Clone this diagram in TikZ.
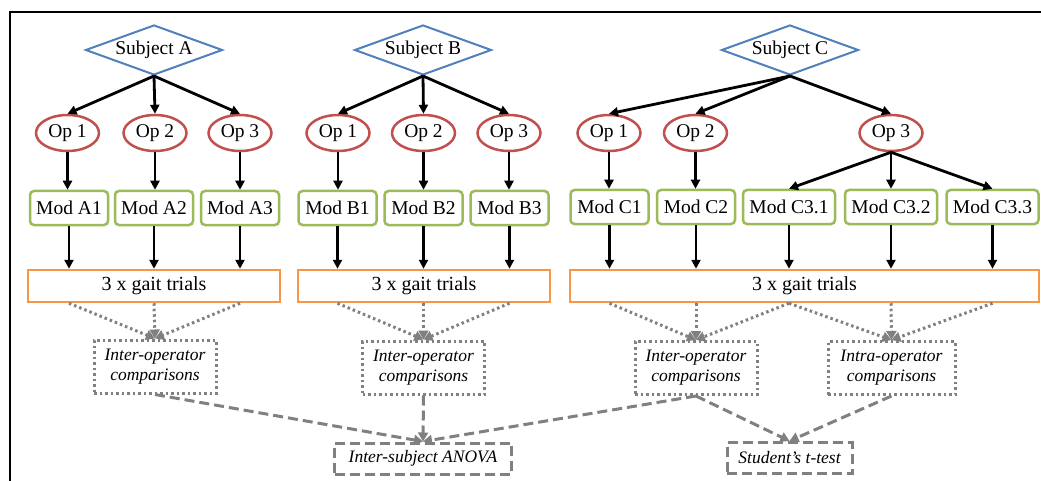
\documentclass[tikz,border=0pt]{standalone}
\usepackage{fontspec}
\newfontfamily\diagfont{Liberation Serif}
\usetikzlibrary{shapes.geometric,arrows.meta}
\definecolor{subjblue}{HTML}{4F81BD}
\definecolor{opred}{HTML}{C0504D}
\definecolor{modgreen}{HTML}{9BBB59}
\definecolor{gaitorange}{HTML}{F79646}
\definecolor{cmpgray}{HTML}{808080}
\tikzset{
  basefont/.style={font=\diagfont\fontsize{19.5}{22}\selectfont},
  subj/.style={diamond, draw=subjblue, line width=2pt, aspect=2.74, inner sep=0pt,
    minimum width=137pt, minimum height=50pt, basefont},
  opnode/.style={ellipse, draw=opred, line width=2.5pt, inner sep=0pt,
    minimum width=63pt, minimum height=36pt, basefont},
  modnode/.style={rectangle, rounded corners=4pt, draw=modgreen, line width=2.5pt,
    inner sep=0pt, minimum width=78pt, minimum height=34pt, basefont},
  gaitnode/.style={rectangle, draw=gaitorange, line width=2.5pt, inner sep=0pt,
    minimum height=32pt, font=\diagfont\fontsize{20}{22}\selectfont},
  cmpnode/.style={rectangle, draw=cmpgray, line width=3pt, dash pattern=on 2.5pt off 3pt,
    inner sep=0pt, minimum width=122pt, minimum height=53pt, align=center,
    font=\diagfont\fontsize{17.5}{20}\selectfont\itshape},
  finalnode/.style={rectangle, draw=cmpgray, line width=3pt, dash pattern=on 10pt off 5pt,
    inner sep=0pt, minimum height=31pt, font=\diagfont\fontsize{17.5}{20}\selectfont\itshape},
  blackarrow/.style={line width=2.8pt, -{Triangle[length=9pt,width=9pt]}},
  dotarrow/.style={cmpgray, line width=3pt, dash pattern=on 2.5pt off 3pt,
    -{Triangle[length=9pt,width=10pt]}},
  dasharrow/.style={cmpgray, line width=3pt, dash pattern=on 10pt off 5pt,
    -{Triangle[length=9pt,width=10pt]}},
}
\begin{document}
\begin{tikzpicture}[x=1pt,y=-1pt]
\useasboundingbox (0,0) rectangle (1041,481);
\fill[white] (0,0) rectangle (1041,481);
\draw[line width=2.5pt] (10,481) -- (10,12) -- (1041,12);

% subjects
\node[subj] (sA) at (154,50) {Subject A};
\node[subj] (sB) at (423,50) {Subject B};
\node[subj] (sC) at (790,50) {Subject C};

% operators
\node[opnode] (oA1) at (67.5,133) {Op 1};
\node[opnode] (oA2) at (155,133) {Op 2};
\node[opnode] (oA3) at (240,133) {Op 3};
\node[opnode] (oB1) at (338,133) {Op 1};
\node[opnode] (oB2) at (423.5,133) {Op 2};
\node[opnode] (oB3) at (509,133) {Op 3};
\node[opnode] (oC1) at (609,133) {Op 1};
\node[opnode] (oC2) at (695.5,133) {Op 2};
\node[opnode] (oC3) at (891,133) {Op 3};

% models
\node[modnode] (mA1) at (69,208) {Mod A1};
\node[modnode] (mA2) at (154,208) {Mod A2};
\node[modnode] (mA3) at (240,208) {Mod A3};
\node[modnode] (mB1) at (337.5,208) {Mod B1};
\node[modnode] (mB2) at (423.5,208) {Mod B2};
\node[modnode] (mB3) at (509.5,208) {Mod B3};
\node[modnode] (mC1) at (609.5,207) {Mod C1};
\node[modnode] (mC2) at (696,207) {Mod C2};
\node[modnode, minimum width=92pt] (mC31) at (789,207) {Mod C3.1};
\node[modnode, minimum width=92pt] (mC32) at (891,207) {Mod C3.2};
\node[modnode, minimum width=92pt] (mC33) at (992.5,207) {Mod C3.3};

% gait trials
\node[gaitnode, minimum width=252pt] (gA) at (154,286) {3 x gait trials};
\node[gaitnode, minimum width=252pt] (gB) at (424,286) {3 x gait trials};
\node[gaitnode, minimum width=469pt] (gC) at (804.5,286) {3 x gait trials};

% comparisons
\node[cmpnode] (cA) at (155,366.5) {Inter-operator\\comparisons};
\node[cmpnode] (cB) at (423.5,367.5) {Inter-operator\\comparisons};
\node[cmpnode] (cC) at (696,368) {Inter-operator\\comparisons};
\node[cmpnode, minimum width=127pt] (cI) at (891.5,368) {Intra-operator\\comparisons};

% final tests
\node[finalnode, minimum width=177pt] (fA) at (423,458.5) {Inter-subject ANOVA};
\node[finalnode, minimum width=125pt] (fT) at (789.5,458) {Student’s t-test};

% subject -> operator
\foreach \o in {oA1,oA2,oA3} \draw[blackarrow] (sA.south) -- (\o.north);
\foreach \o in {oB1,oB2,oB3} \draw[blackarrow] (sB.south) -- (\o.north);
\foreach \o in {oC1,oC2,oC3} \draw[blackarrow] (sC.south) -- (\o.north);

% operator -> model
\draw[blackarrow] (oA1.south) -- (oA1.south |- mA1.north);
\draw[blackarrow] (oA2.south) -- (oA2.south |- mA2.north);
\draw[blackarrow] (oA3.south) -- (oA3.south |- mA3.north);
\draw[blackarrow] (oB1.south) -- (oB1.south |- mB1.north);
\draw[blackarrow] (oB2.south) -- (oB2.south |- mB2.north);
\draw[blackarrow] (oB3.south) -- (oB3.south |- mB3.north);
\draw[blackarrow] (oC1.south) -- (oC1.south |- mC1.north);
\draw[blackarrow] (oC2.south) -- (oC2.south |- mC2.north);
\foreach \m in {mC31,mC32,mC33} \draw[blackarrow] (oC3.south) -- (\m.north);

% model -> gait
\foreach \m in {mA1,mA2,mA3} \draw[blackarrow] (\m.south) -- (\m.south |- gA.north);
\foreach \m in {mB1,mB2,mB3} \draw[blackarrow] (\m.south) -- (\m.south |- gB.north);
\foreach \m in {mC1,mC2,mC31,mC32,mC33} \draw[blackarrow] (\m.south) -- (\m.south |- gC.north);

% gait -> comparisons (dotted)
\foreach \m in {mA1,mA2,mA3} \draw[dotarrow] (\m.south |- gA.south) -- (cA.north);
\foreach \m in {mB1,mB2,mB3} \draw[dotarrow] (\m.south |- gB.south) -- (cB.north);
\foreach \m in {mC1,mC2,mC31} \draw[dotarrow] (\m.south |- gC.south) -- (cC.north);
\foreach \m in {mC31,mC32,mC33} \draw[dotarrow] (\m.south |- gC.south) -- (cI.north);

% comparisons -> tests (dashed)
\draw[dasharrow] (cA.south) -- (fA.north);
\draw[dasharrow] (cB.south) -- (fA.north);
\draw[dasharrow] (cC.south) -- (fA.north);
\draw[dasharrow] (cC.south) -- (fT.north);
\draw[dasharrow] (cI.south) -- (fT.north);
\end{tikzpicture}
\end{document}
